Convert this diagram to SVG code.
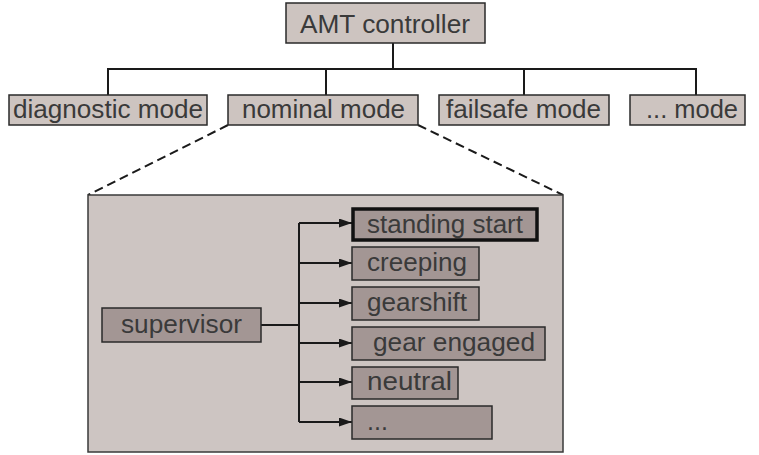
<svg xmlns="http://www.w3.org/2000/svg" width="759" height="455" viewBox="0 0 759 455">
<style>
.top{fill:#cdc4c0;stroke:#2a2a2a;stroke-width:1.5}
.in{fill:#a39694;stroke:#2a2a2a;stroke-width:1.5}
.panel{fill:#cdc5c2;stroke:#3a3a3a;stroke-width:1.5}
text{font-family:"Liberation Sans",Arial,sans-serif;font-size:25px;fill:#3a3a3a}
.ln{fill:none;stroke:#1a1a1a;stroke-width:2}
.dash{fill:none;stroke:#1a1a1a;stroke-width:2;stroke-dasharray:9,5}
</style>
<defs>
<marker id="ah" markerWidth="13" markerHeight="9" refX="13" refY="4.5" orient="auto" markerUnits="userSpaceOnUse">
<path d="M0,0 L13,4.5 L0,9 Z" fill="#1a1a1a"/>
</marker>
</defs>
<g id="connectors">
<path class="ln" d="M393,43 V69 M107,69 H697 M108,69 V95 M326,69 V95 M524,69 V95 M696,69 V95"/>
<path class="dash" d="M228,125 L88,195 M418,125 L563,195"/>
</g>
<g id="nominal-detail">
<rect class="panel" x="88" y="195" width="475" height="257"/>
</g>
<g id="inner-connectors">
<path class="ln" d="M261,325 H299 M299,223 V422"/>
<path class="ln" marker-end="url(#ah)" d="M299,223 H352"/>
<path class="ln" marker-end="url(#ah)" d="M299,263 H352"/>
<path class="ln" marker-end="url(#ah)" d="M299,303 H352"/>
<path class="ln" marker-end="url(#ah)" d="M299,343 H352"/>
<path class="ln" marker-end="url(#ah)" d="M299,382 H352"/>
<path class="ln" marker-end="url(#ah)" d="M299,422 H352"/>
</g>
<g id="amt-controller">
<rect class="top" x="286" y="3" width="199" height="40"/>
<text x="300" y="33" textLength="170" lengthAdjust="spacingAndGlyphs">AMT controller</text>
</g>
<g id="diagnostic-mode">
<rect class="top" x="9" y="95" width="198" height="30"/>
<text x="13" y="118" textLength="190" lengthAdjust="spacingAndGlyphs">diagnostic mode</text>
</g>
<g id="nominal-mode">
<rect class="top" x="228" y="95" width="190" height="30"/>
<text x="242" y="118" textLength="163" lengthAdjust="spacingAndGlyphs">nominal mode</text>
</g>
<g id="failsafe-mode">
<rect class="top" x="439" y="95" width="170" height="30"/>
<text x="446" y="118" textLength="155" lengthAdjust="spacingAndGlyphs">failsafe mode</text>
</g>
<g id="other-mode">
<rect class="top" x="630" y="95" width="115" height="30"/>
<text x="646" y="118" textLength="92" lengthAdjust="spacingAndGlyphs">... mode</text>
</g>
<g id="supervisor">
<rect class="in" x="102" y="308" width="159" height="34"/>
<text x="121" y="333" textLength="121" lengthAdjust="spacingAndGlyphs">supervisor</text>
</g>
<g id="standing-start">
<rect class="in" x="353" y="209" width="184" height="31" style="stroke:#111;stroke-width:3.5"/>
<text x="367" y="233" textLength="156" lengthAdjust="spacingAndGlyphs">standing start</text>
</g>
<g id="creeping">
<rect class="in" x="352" y="247" width="127" height="33"/>
<text x="367" y="271" textLength="100" lengthAdjust="spacingAndGlyphs">creeping</text>
</g>
<g id="gearshift">
<rect class="in" x="352" y="287" width="127" height="33"/>
<text x="367" y="311" textLength="100" lengthAdjust="spacingAndGlyphs">gearshift</text>
</g>
<g id="gear-engaged">
<rect class="in" x="352" y="327" width="193" height="33"/>
<text x="373" y="351" textLength="162" lengthAdjust="spacingAndGlyphs">gear engaged</text>
</g>
<g id="neutral">
<rect class="in" x="352" y="367" width="106" height="32"/>
<text x="367" y="390" textLength="85" lengthAdjust="spacingAndGlyphs">neutral</text>
</g>
<g id="more">
<rect class="in" x="352" y="406" width="140" height="33"/>
<text x="367" y="430">...</text>
</g>
</svg>
